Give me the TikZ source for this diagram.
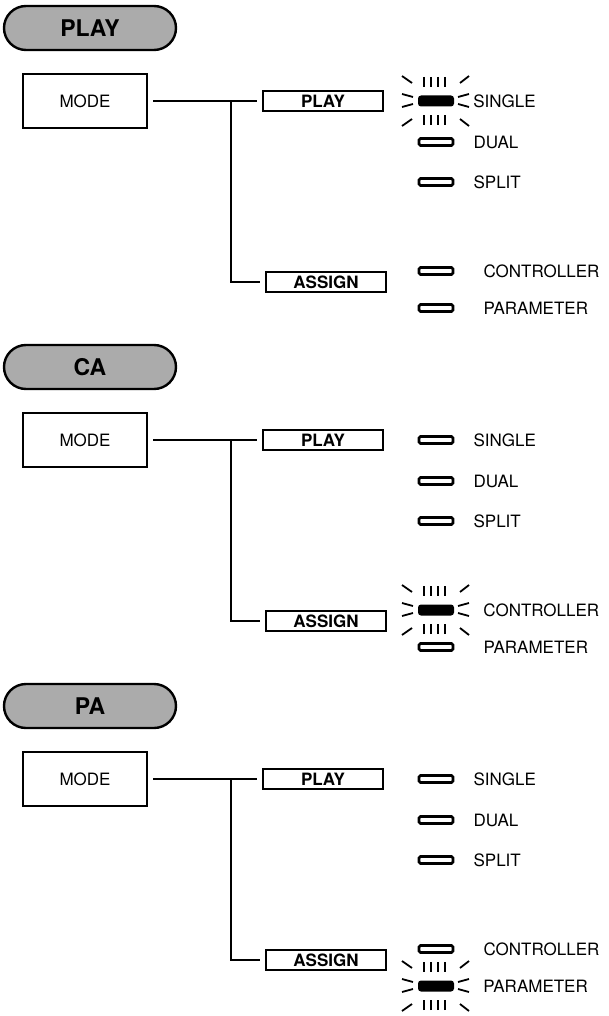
\documentclass[tikz,border=0pt]{standalone}
\usepackage{fontspec}
\setmainfont{TeX Gyre Heros}
\usetikzlibrary{positioning}

\tikzset{
	pill/.style={draw,line width=2.4pt,fill=black!33,rounded corners=22pt,minimum width=172pt,minimum height=44pt,font=\fontsize{23}{25}\selectfont\bfseries},
	modebox/.style={draw,line width=2.8pt,minimum width=124pt,minimum height=54pt,font=\fontsize{17}{19}\selectfont},
	selbox/.style={draw,line width=2.6pt,minimum width=120pt,minimum height=20pt,inner sep=0pt,font=\fontsize{17}{19}\selectfont\bfseries},
	wire/.style={line width=2.2pt},
	ledoff/.style={draw,line width=2.8pt,fill=white,rounded corners=1.5pt,minimum width=34pt,minimum height=7pt,inner sep=0pt},
	ledon/.style={fill=black,rounded corners=3pt,minimum width=36pt,minimum height=11pt,inner sep=0pt},
	ledtext/.style={anchor=west,inner sep=0pt,font=\fontsize{17}{19}\selectfont},
	ray/.style={line width=1.8pt},
	rays/.pic={
		\draw[ray] (-34,-25)--(-24,-18) (24,-18)--(33,-25);
		\draw[ray] (-34,25)--(-24,18) (24,18)--(33,25);
		\draw[ray] (-12,-24)--(-12,-14) (-5,-24)--(-5,-14) (2,-24)--(2,-14) (9,-24)--(9,-14);
		\draw[ray] (-12,24)--(-12,14) (-5,24)--(-5,14) (2,24)--(2,14) (9,24)--(9,14);
		\draw[ray] (-34,-7)--(-23,-4) (-34,6)--(-23,3);
		\draw[ray] (22,-4)--(33,-7) (22,3)--(33,6);
	}
}

\begin{document}
\begin{tikzpicture}[x=1pt,y=-1pt]
	\useasboundingbox (0,0) rectangle (608,1016);
	% three states of the MODE selector
	\foreach \p/\ttl/\lit in {0/PLAY/1,1/CA/4,2/PA/5}{
	\begin{scope}[yshift={-339pt*\p}]
		\node[pill] (title\p) at (90,28) {\ttl};
		\node[modebox] (mode\p) at (85,101) {MODE};
		\node[selbox] (play\p) at (323,101) {PLAY};
		\node[selbox] (assign\p) at (326,282) {ASSIGN};
		\coordinate (fork\p) at (231,101);
		\draw[wire,shorten <=5pt,shorten >=5pt] (mode\p.east) -- (play\p.west);
		\draw[wire,shorten >=5pt] (fork\p) |- (assign\p.west);
		% indicators
		\foreach \r/\txt/\ry/\gap in {1/SINGLE/101/19,2/DUAL/142/19,3/SPLIT/182/19,4/CONTROLLER/271/29,5/PARAMETER/308/29}{
			\ifnum\r=\lit
				\node[ledon] (led\p\r) at (436,\ry) {};
				\pic at (led\p\r) {rays};
			\else
				\node[ledoff] (led\p\r) at (436,\ry) {};
			\fi
			\node[ledtext,right=\gap pt of led\p\r] (name\p\r) {\txt};
		}
	\end{scope}
	}
\end{tikzpicture}
\end{document}
